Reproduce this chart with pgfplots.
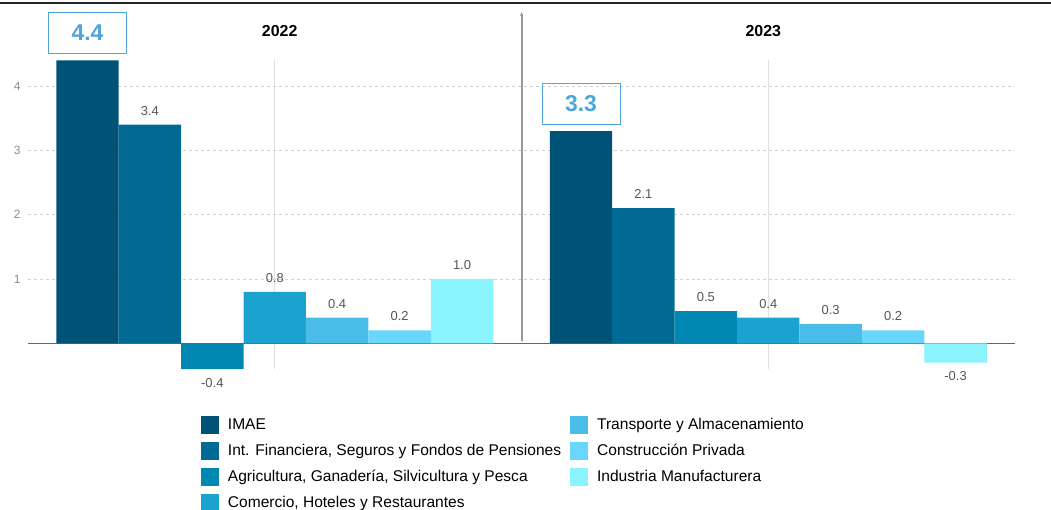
\documentclass[border=0pt]{standalone}
\usepackage{pgfplots}
\pgfplotsset{compat=1.18}
\usetikzlibrary{arrows.meta}
\usepackage{fontspec}
\setmainfont{Liberation Sans}
\definecolor{c1}{RGB}{0,83,119}
\definecolor{c2}{RGB}{0,106,148}
\definecolor{c3}{RGB}{0,136,178}
\definecolor{c4}{RGB}{26,163,207}
\definecolor{c5}{RGB}{73,188,232}
\definecolor{c6}{RGB}{105,214,252}
\definecolor{c7}{RGB}{138,243,253}
\definecolor{boxblue}{RGB}{79,166,219}
\definecolor{lblgray}{RGB}{85,85,85}
\begin{document}
\begin{tikzpicture}
\useasboundingbox (0,0) rectangle (1051bp,-510bp);
\draw[line width=1.6bp, black!85] (0,-3bp) -- (1051bp,-3bp);
\begin{axis}[
  at={(28bp,-369bp)}, anchor=south west,
  scale only axis, width=987bp, height=308.7bp,
  xmin=-0.5, xmax=1.5, ymin=-0.4, ymax=4.4,
  clip=false,
  axis line style={draw=none},
  major tick length=0pt,
  xtick={0,1}, xticklabels={},
  ytick={1,2,3,4},
  /pgf/number format/assume math mode=true,
  yticklabel style={font=\fontsize{12}{14}\selectfont, text=black!45, xshift=-4bp},
  xmajorgrids, ymajorgrids,
  x grid style={black!12, line width=0.8bp},
  y grid style={black!18, dashed, line width=0.6bp},
  ybar, bar width=0.1265,
  every axis plot/.append style={draw=none},
  nodes near coords={\pgfmathprintnumber[fixed, fixed zerofill, precision=1]{\pgfplotspointmeta}},
  nodes near coords align=vertical,
  every node near coord/.append style={font=\fontsize{13}{15}\selectfont, text=lblgray, outer ysep=6bp},
  legend image code/.code={\fill[#1] (0bp,-9bp) rectangle (18bp,9bp);},
  legend columns=2,
  legend style={at={(0.172,-0.146)}, anchor=north west, draw=none,
    font=\fontsize{15.6}{18}\selectfont,
    nodes={anchor=west, inner sep=0pt, text height=11bp, text depth=3bp},
    row sep=8bp,
    /tikz/column 1/.style={column sep=9bp},
    /tikz/column 2/.style={column sep=9bp},
    /tikz/column 3/.style={column sep=9bp}},
  legend cell align=left,
]
\draw[black!60, line width=1.2bp] (axis cs:-0.5,0) -- (axis cs:1.5,0);
% IMAE with boxed labels
\addplot+[ybar, fill=c1, bar shift=-0.3795, forget plot,
  every node near coord/.append style={draw=boxblue, line width=0.8bp, text=boxblue,
    font=\bfseries\fontsize{23}{27}\selectfont, minimum width=78bp, minimum height=41bp,
    inner sep=0pt, outer ysep=7bp}]
  coordinates {(0,4.4) (1,3.3)};
\addplot+[ybar, fill=c2, bar shift=-0.253, forget plot] coordinates {(0,3.4) (1,2.1)};
\addplot+[ybar, fill=c3, bar shift=-0.1265, forget plot] coordinates {(0,-0.4) (1,0.5)};
\addplot+[ybar, fill=c4, bar shift=0, forget plot] coordinates {(0,0.8) (1,0.4)};
\addplot+[ybar, fill=c5, bar shift=0.1265, forget plot] coordinates {(0,0.4) (1,0.3)};
\addplot+[ybar, fill=c6, bar shift=0.253, forget plot] coordinates {(0,0.2) (1,0.2)};
\addplot+[ybar, fill=c7, bar shift=0.3795, forget plot] coordinates {(0,1.0) (1,-0.3)};
% legend in column order
\addlegendimage{fill=c1}\addlegendentry{IMAE}
\addlegendimage{fill=c5}\addlegendentry{Transporte y Almacenamiento}
\addlegendimage{fill=c2}\addlegendentry{Int. Financiera, Seguros y Fondos de Pensiones}
\addlegendimage{fill=c6}\addlegendentry{Construcción Privada}
\addlegendimage{fill=c3}\addlegendentry{Agricultura, Ganadería, Silvicultura y Pesca}
\addlegendimage{fill=c7}\addlegendentry{Industria Manufacturera}
\addlegendimage{fill=c4}\addlegendentry{Comercio, Hoteles y Restaurantes}
% separator and group titles
\draw[black!40, line width=2bp, -{Stealth[length=4bp,width=3bp]}] (axis cs:0.5,0.03) -- (axis cs:0.5,5.15);
\node[font=\bfseries\fontsize{16}{19}\selectfont] at (axis cs:0.01,4.85) {2022};
\node[font=\bfseries\fontsize{16}{19}\selectfont] at (axis cs:0.99,4.85) {2023};
\end{axis}
\end{tikzpicture}
\end{document}
